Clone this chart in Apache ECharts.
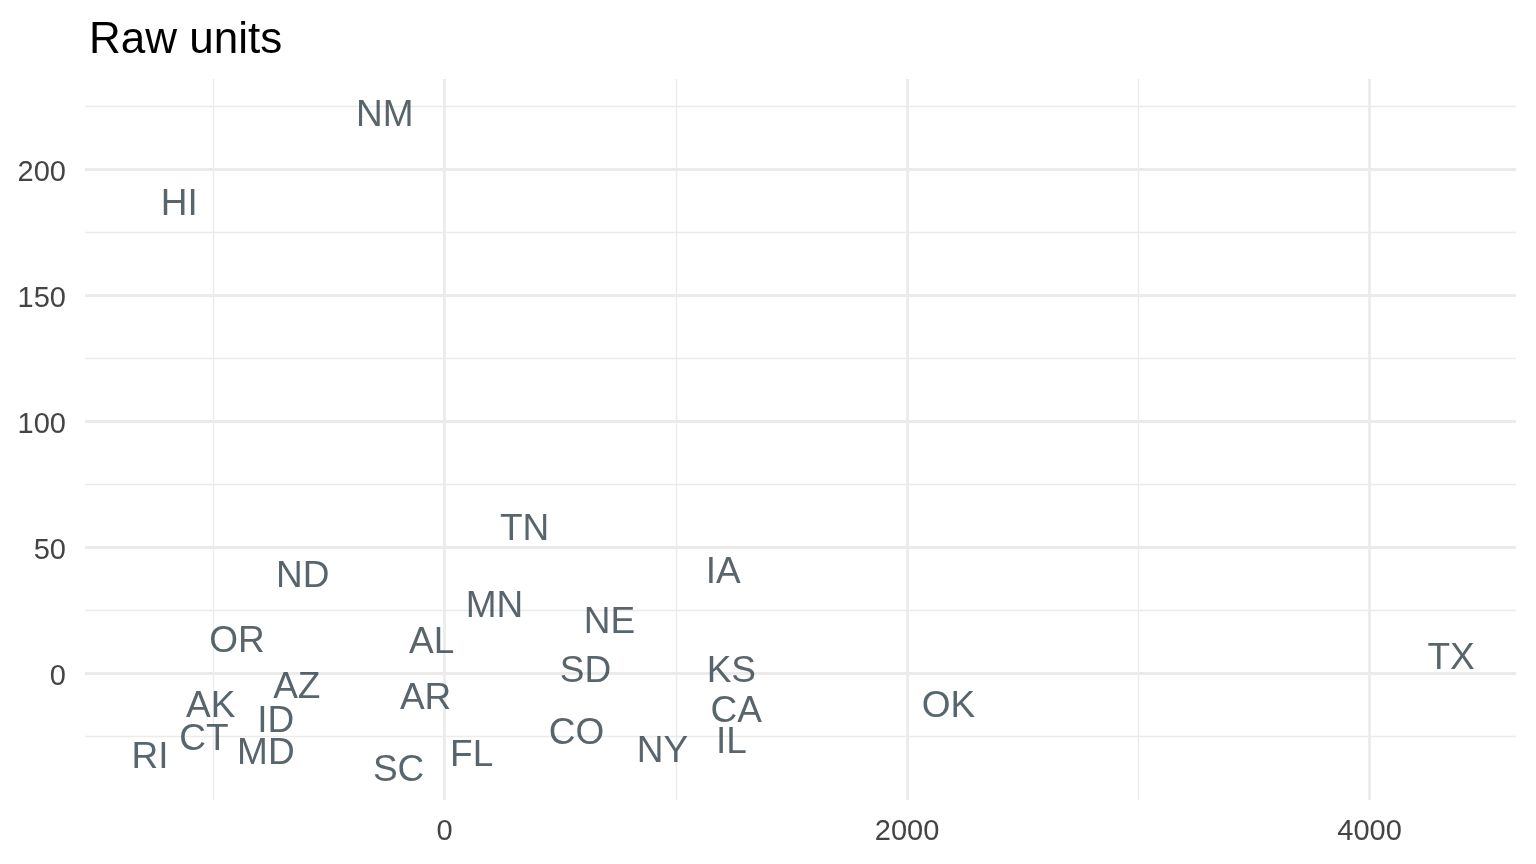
<!DOCTYPE html>
<html><head><meta charset="utf-8">
<script src="https://cdn.jsdelivr.net/npm/echarts@6/dist/echarts.min.js"></script>
<style>html,body{margin:0;padding:0;background:#fff}#c{width:1536px;height:864px}</style>
</head><body><div id="c"></div>
<script>
const states  = ["NM","HI","TN","ND","IA","MN","NE","OR","AL","SD","KS","TX","AZ","AR","OK","AK","CA","ID","CO","CT","IL","MD","NY","FL","RI","SC"];
const xValues = [-259,-1147,346,-613,1205,216,713,-898,-56,609,1240,4352,-639,-82,2179,-1011,1261,-730,570,-1041,1240,-773,942,117,-1274,-199];
const yValues = [222.8,187.3,58.7,39.7,41.3,27.8,21.8,13.9,13.5,2.0,2.0,7.5,-4.0,-8.7,-11.9,-11.9,-13.9,-17.5,-22.6,-25.0,-26.2,-30.2,-29.4,-31.3,-32.1,-37.3];
const xMajorTicks = [0, 2000, 4000];
const xMinorTicks = [-1000, 1000, 3000];
const yMajorTicks = [0, 50, 100, 150, 200];
const yMinorTicks = [-25, 25, 75, 125, 175, 225];
const xRange = [-1555, 4633];
const yRange = [-50.3, 235.8];
const titleText = "Raw units";

const FONT = '"Liberation Sans", Arial, Helvetica, sans-serif';
const chart = echarts.init(document.getElementById('c'), null, {renderer: 'canvas'});
function axisPair(range, major, minor, isX) {
  const base = {
    type: 'value', min: range[0], max: range[1],
    axisLine: {show: false},
    axisTick: {show: false}
  };
  const tickText = {color: '#444444', fontSize: 29, fontFamily: FONT};
  return [
    Object.assign({}, base, {
      axisTick: {show: false, customValues: minor},
      axisLabel: {show: false},
      splitLine: {show: true, lineStyle: {color: '#ebebeb', width: 1.4}}
    }),
    Object.assign({}, base, {
      axisTick: {show: false, customValues: major},
      axisLabel: Object.assign({
        show: true, customValues: major,
        formatter: isX ? (v => String(v)) : (v => '{t|' + v + '}'),
        margin: isX ? 17 : 19,
        rich: isX ? undefined : {t: Object.assign({padding: [8, 0, 0, 0]}, tickText)}
      }, tickText),
      splitLine: {show: true, lineStyle: {color: '#ebebeb', width: 2.8}}
    })
  ];
}
const xs = axisPair(xRange, xMajorTicks, xMinorTicks, true);
const ys = axisPair(yRange, yMajorTicks, yMinorTicks, false);
xs[0].position = 'bottom'; xs[1].position = 'bottom';
ys[0].position = 'left'; ys[1].position = 'left';
chart.setOption({
  animation: false,
  backgroundColor: '#ffffff',
  title: {text: titleText, left: 84, top: 14, textStyle: {color: '#000', fontSize: 44, fontWeight: 'normal', fontFamily: FONT}},
  grid: {left: 85, right: 20, top: 79, bottom: 64, containLabel: false},
  xAxis: xs,
  yAxis: ys,
  series: [{
    type: 'scatter', xAxisIndex: 1, yAxisIndex: 1,
    symbolSize: 1,
    itemStyle: {color: 'rgba(0,0,0,0)'},
    silent: true,
    data: states.map((s, i) => ({name: s, value: [xValues[i], yValues[i]]})),
    label: {show: true, position: 'inside', offset: [0, 4], formatter: '{b}', color: '#2f3e49', fontSize: 37, fontFamily: FONT, align: 'center', verticalAlign: 'middle'}
  }]
});
</script></body></html>
